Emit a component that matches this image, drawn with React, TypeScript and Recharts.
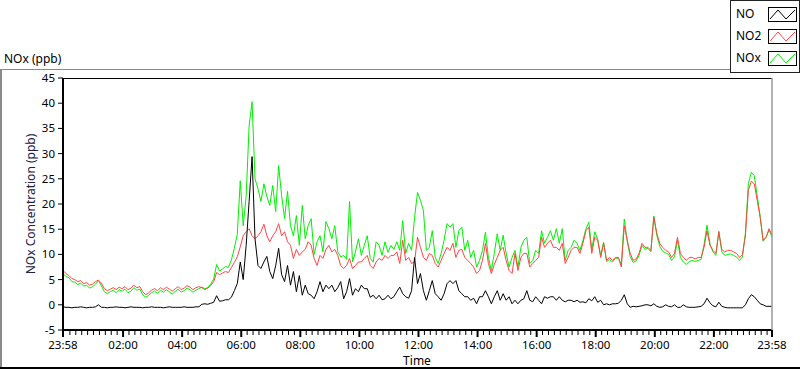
import React from 'react'
import { LineChart, Line, XAxis, YAxis } from 'recharts'

// one sample every 6 minutes, starting 23:58
const STEP_MIN = 6

const noValues = [
  -0.4, -0.5, -0.5, -0.6, -0.5, -0.5, -0.4, -0.5, -0.6, -0.5,
  -0.5, -0.4, 0.0, -0.5, -0.5, -0.6, -0.5, -0.5, -0.4, -0.5,
  -0.5, -0.6, -0.5, -0.4, -0.5, -0.5, -0.5, -0.6, -0.5, -0.5,
  -0.4, -0.5, -0.5, -0.5, -0.6, -0.5, -0.4, -0.5, -0.5, -0.5,
  -0.5, -0.4, -0.5, -0.5, -0.5, -0.4, -0.4,
  0.1, 0.2, 0.1, 0.3, 0.5, 1.8, 0.7, 0.8, 1.0, 1.0, 1.5, 2.8, 4.2,
  8.5, 5.0, 11.8, 20.5, 29.4, 13.1, 7.8, 7.2, 8.5, 9.6,
  6.6, 5.2, 7.8, 11.2, 6.0, 4.6, 7.8, 3.9, 6.6, 2.6,
  5.8, 1.9, 3.9, 2.2, 1.9, 1.2, 2.6, 4.6, 2.6, 3.9,
  3.2, 3.9, 2.6, 3.4, 4.6, 1.2, 2.6, 5.2, 1.9, 3.2,
  2.6, 3.9, 3.2, 3.2, 1.5, 1.9, 1.2, 1.9, 1.0, 1.2,
  1.9, 1.2, 1.6, 2.6,
  3.5, 2.2, 1.6, 1.3, 2.8, 9.4, 4.2, 6.2, 2.8, 0.9,
  2.8, 4.8, 2.2, 1.6, 0.9, 2.2, 4.2, 4.8, 4.2, 4.8,
  2.8, 2.2, 1.6, 1.6, 0.9, 1.3, 0.2, 1.6, 1.6, 2.8,
  1.6, 0.2, 1.6, 2.8, 0.9, 2.2, 0.9, 1.6, 0.2, 0.9,
  0.2, 0.9, 1.2, 2.8, 0.9, 0.6, 1.6, 0.9, 0.2, 1.6,
  1.3, 1.6, 1.6, 0.9, 1.6, 0.9, 0.6, 0.9, 0.9, 0.6,
  0.9,
  0.5, 0.6, 0.4, 1.2, 0.8, 1.6, 0.5, 0.9, 0.0, 0.2,
  0.0, 0.2, 0.2, 0.3, 0.9, 2.0, 0.2, -0.5, -0.3, -0.4,
  -0.3, -0.2, 0.0, 0.0, -0.2, 0.2, -0.3, -0.5, -0.4, 0.0,
  -0.3, -0.4, 0.0, -0.5, -0.5, 0.0, -0.4, -0.5, -0.5, -0.5,
  -0.4, -0.3, 0.2, 1.3, 0.4, -0.2, -0.4, 0.5, -0.3, -0.5,
  -0.6, -0.6, -0.6, -0.6, -0.6, -0.6, 0.0, 1.2, 2.0, 1.6,
  0.9, 0.2, 0.0, -0.3, -0.3, -0.3,
]

const no2Values = [
  6.8, 6.2, 5.8, 5.2, 5.0, 4.6, 4.8, 4.2, 4.4, 3.9,
  4.1, 4.6, 4.9, 4.3, 3.2, 2.8, 3.1, 3.4, 3.0, 3.5,
  3.2, 3.6, 3.0, 3.3, 3.9, 3.4, 3.6, 2.6, 2.0, 2.4,
  2.9, 3.2, 2.8, 3.4, 3.0, 3.5, 3.1, 2.7, 3.2, 3.6,
  3.0, 3.3, 3.8, 3.5, 3.0, 3.4, 3.6,
  3.4, 3.0, 3.3, 3.8, 4.6, 6.4, 6.0, 6.3, 6.6, 6.4, 7.4, 8.4, 9.5,
  11.5, 13.7, 14.5, 15.1, 13.7, 13.1, 13.7, 14.5, 16.0, 13.7,
  12.5, 13.7, 14.5, 16.1, 13.7, 14.5, 12.5, 11.8, 9.2, 11.0,
  9.8, 10.5, 11.0, 12.5, 11.8, 9.2, 7.8, 9.8, 9.2, 11.0,
  11.8, 10.5, 11.0, 9.8, 7.8, 7.2, 7.8, 9.2, 7.2, 7.8,
  8.5, 8.5, 9.2, 9.8, 7.8, 7.2, 8.5, 9.2, 8.8, 9.8,
  9.2, 9.8, 9.8, 10.5,
  8.2, 12.8, 8.8, 9.4, 8.2, 8.5, 13.4, 11.4, 9.4, 8.8,
  10.2, 9.8, 8.2, 7.5, 8.8, 10.2, 11.4, 10.8, 12.2, 9.4,
  10.8, 11.0, 9.4, 8.8, 8.2, 7.5, 6.2, 6.8, 8.8, 12.2,
  8.2, 6.2, 8.0, 9.4, 10.8, 11.4, 8.8, 6.8, 6.2, 10.2,
  6.8, 9.4, 10.2, 10.2, 7.5, 8.2, 8.8, 9.4, 13.4, 11.4,
  12.2, 12.8, 11.4, 11.4, 10.8, 12.2, 8.2, 9.4, 10.8, 11.4,
  11.4,
  10.2, 12.2, 14.7, 15.4, 10.2, 13.4, 12.8, 9.4, 12.2, 8.8,
  9.4, 8.8, 9.4, 9.4, 7.5, 15.7, 12.8, 10.2, 8.8, 9.1,
  10.2, 12.2, 11.4, 11.4, 10.8, 17.4, 14.2, 12.2, 11.4, 10.8,
  10.5, 9.4, 10.2, 13.4, 10.2, 9.4, 8.8, 9.4, 9.4, 9.1,
  9.4, 9.4, 11.4, 14.7, 11.8, 10.8, 10.2, 14.4, 11.0, 10.5,
  10.8, 10.8, 10.5, 10.2, 9.4, 10.0, 13.8, 22.7, 24.5, 24.0,
  20.7, 17.3, 12.8, 13.4, 15.1, 13.8,
]

const noxValues = [
  6.2, 5.6, 5.4, 4.6, 4.5, 4.0, 4.3, 3.7, 3.9, 3.3,
  3.6, 4.1, 4.8, 3.8, 2.6, 2.2, 2.6, 2.9, 2.4, 3.0,
  2.7, 3.1, 2.4, 2.7, 3.4, 2.9, 3.1, 2.0, 1.5, 1.9,
  2.4, 2.7, 2.3, 2.9, 2.5, 3.0, 2.6, 2.1, 2.7, 3.1,
  2.5, 2.8, 3.3, 3.0, 2.5, 2.9, 3.2,
  3.5, 3.2, 3.4, 4.1, 5.1, 8.0, 6.7, 7.1, 7.6, 7.4, 8.9, 11.2, 14.0,
  24.6, 15.7, 21.5, 35.5, 40.3, 25.0, 23.0, 20.5, 24.0, 21.5,
  19.7, 23.7, 18.5, 27.6, 21.7, 17.1, 22.5, 15.7, 13.7, 17.7,
  11.8, 19.7, 13.1, 15.7, 17.1, 10.0, 12.5, 13.7, 10.5, 16.5,
  15.1, 13.1, 15.7, 10.5, 9.5, 9.8, 9.0, 20.5, 8.5, 10.5,
  13.1, 9.8, 11.8, 13.7, 9.2, 8.5, 12.5, 11.8, 9.8, 12.5,
  10.4, 11.8, 11.0, 12.5,
  10.8, 16.7, 10.2, 12.2, 10.8, 17.3, 22.3, 20.7, 18.7, 10.8,
  11.4, 14.7, 9.4, 8.2, 10.2, 12.8, 16.1, 15.4, 16.1, 11.4,
  14.7, 15.4, 10.8, 12.8, 9.4, 10.8, 7.5, 8.8, 10.8, 14.4,
  9.4, 6.8, 10.2, 14.1, 10.8, 13.8, 10.2, 7.5, 9.4, 10.8,
  7.5, 11.4, 12.8, 13.4, 8.2, 8.8, 10.8, 10.2, 14.7, 12.2,
  13.4, 14.7, 12.8, 15.1, 12.2, 15.1, 8.8, 10.8, 11.4, 12.8,
  12.2,
  10.8, 12.8, 15.0, 16.4, 11.0, 14.5, 13.0, 9.8, 12.4, 8.6,
  9.0, 8.5, 9.2, 9.3, 8.0, 17.0, 12.6, 9.6, 8.4, 8.7,
  9.8, 11.8, 11.0, 11.2, 10.5, 17.6, 13.8, 11.6, 10.6, 10.3,
  10.0, 8.8, 9.5, 12.8, 9.4, 8.5, 8.0, 8.6, 8.8, 8.6,
  8.8, 9.0, 11.9, 15.8, 12.1, 10.5, 9.8, 14.6, 10.5, 9.8,
  10.0, 10.1, 9.8, 9.5, 8.8, 9.5, 14.2, 24.0, 26.3, 25.6,
  21.6, 17.6, 12.6, 13.4, 14.8, 13.5,
]

// minutes after 23:58
const majorTicks = [0, 122, 242, 362, 482, 602, 722, 842, 962, 1082, 1202, 1322, 1440]
const majorLabels = ['23:58', '02:00', '04:00', '06:00', '08:00', '10:00', '12:00', '14:00', '16:00', '18:00', '20:00', '22:00', '23:58']
const yTicks = [-5, 0, 5, 10, 15, 20, 25, 30, 35, 40, 45]

const series = [
  { key: 'nox', name: 'NOx', color: '#00f000' },
  { key: 'no2', name: 'NO2', color: '#ff4444' },
  { key: 'no', name: 'NO', color: '#000000' },
]
const legendOrder = ['no', 'no2', 'nox']

const minorTicks: number[] = []
for (let m = 14; m < 1440; m += 12) {
  if ((m - 2) % 120 !== 0) minorTicks.push(m)
}
const allTicks = [...majorTicks, ...minorTicks].sort((a, b) => a - b)

const data = noValues.map((v, i) => ({
  t: i * STEP_MIN,
  no: v,
  no2: no2Values[i],
  nox: noxValues[i],
}))

const FONT = "'Segoe UI', 'Noto Sans', sans-serif"

function TimeTick(props: any) {
  const { x, y, payload } = props
  const idx = majorTicks.indexOf(payload.value)
  if (idx < 0) {
    return <line x1={x} x2={x} y1={y + 1} y2={y + 5} stroke="#000" strokeWidth={1} />
  }
  return (
    <g>
      <line x1={x} x2={x} y1={y} y2={y + 7} stroke="#000" strokeWidth={2} />
      <text x={x} y={y + 18.5} textAnchor="middle" fontSize={11.5} fontFamily={FONT} fill="#000">
        {majorLabels[idx]}
      </text>
    </g>
  )
}

export default function App() {
  return (
    <div style={{ position: 'absolute', left: 0, top: 0, width: 800, height: 369, background: '#fff' }}>
      <LineChart
        width={800}
        height={369}
        data={data}
        margin={{ top: 78, right: 28, left: 0, bottom: 0 }}
      >
        <XAxis
          dataKey="t"
          type="number"
          domain={[0, 1440]}
          ticks={allTicks}
          interval={0}
          height={39}
          tickSize={0}
          tickMargin={0}
          tickLine={false}
          axisLine={{ stroke: '#000', strokeWidth: 2 }}
          tick={<TimeTick />}
        />
        <YAxis
          type="number"
          domain={[-5, 45]}
          ticks={yTicks}
          interval={0}
          width={63}
          tickSize={5}
          tickMargin={3}
          tickLine={{ stroke: '#000' }}
          axisLine={{ stroke: '#000', strokeWidth: 2 }}
          tick={{ fontSize: 11.5, fill: '#000', fontFamily: FONT }}
        />
        {series.map((s) => (
          <Line
            key={s.key}
            type="linear"
            dataKey={s.key}
            name={s.name}
            stroke={s.color}
            strokeWidth={1}
            dot={false}
            isAnimationActive={false}
          />
        ))}
      </LineChart>
      <svg
        width={800}
        height={369}
        style={{ position: 'absolute', left: 0, top: 0, pointerEvents: 'none' }}
      >
        {/* outer frame */}
        <line x1={0} y1={69.5} x2={730} y2={69.5} stroke="#8a8a8a" />
        <line x1={1} y1={69} x2={1} y2={369} stroke="#8a8a8a" strokeWidth={2} />
        <line x1={0} y1={368} x2={800} y2={368} stroke="#000" strokeWidth={2} />
        {/* plot frame */}
        <line x1={63} y1={78.5} x2={772} y2={78.5} stroke="#000" />
        <line x1={772} y1={78} x2={772} y2={330} stroke="#9a9a9a" strokeWidth={1.5} />
        {/* titles */}
        <text x={4} y={63} fontSize={12} fontFamily={FONT} fill="#000">NOx (ppb)</text>
        <text
          transform="translate(35,204) rotate(-90)"
          textAnchor="middle"
          fontSize={12}
          fontFamily={FONT}
          fill="#202040"
        >
          NOx Concentration (ppb)
        </text>
        <text x={417} y={365} textAnchor="middle" fontSize={12} fontFamily={FONT} fill="#000">Time</text>
        {/* legend */}
        <rect x={730.5} y={0.5} width={69} height={72} fill="#fff" stroke="#222" />
        {legendOrder.map((k, i) => {
          const s = series.find((d) => d.key === k)!
          const by = 7 + i * 22
          return (
            <g key={k}>
              <text x={736} y={by + 11} fontSize={12} fontFamily={FONT} fill="#000">{s.name}</text>
              <rect x={768.5} y={by + 0.5} width={28} height={14} fill="#fff" stroke="#000" />
              <polyline
                points={`770,${by + 12} 778,${by + 3} 786,${by + 12} 795,${by + 3}`}
                fill="none"
                stroke={s.color}
                strokeWidth={1}
              />
            </g>
          )
        })}
      </svg>
    </div>
  )
}
